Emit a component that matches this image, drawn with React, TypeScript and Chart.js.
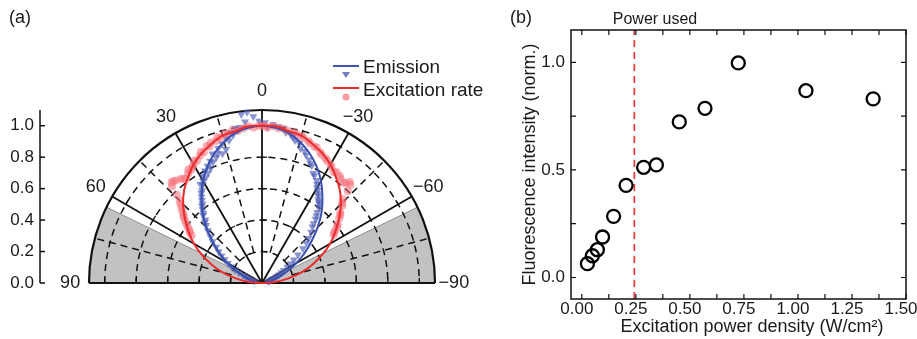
import React, { useEffect, useRef } from 'react';
import { Chart, registerables } from 'chart.js';

Chart.register(...registerables);

const FONT = '"Liberation Sans", Arial, Helvetica, sans-serif';
const TEXT = '#1a1a1a';
const DEG = Math.PI / 180;

// ---------- Panel (a): polar emission / excitation ----------
const fitAngles = [-90, -85, -80, -75, -70, -65, -60, -55, -50, -45, -40, -35, -30, -25, -20, -15, -10, -5, 0, 5, 10, 15, 20, 25, 30, 35, 40, 45, 50, 55, 60, 65, 70, 75, 80, 85, 90];
const emissionFit = [0, 0.01, 0.03, 0.07, 0.12, 0.18, 0.25, 0.33, 0.41, 0.5, 0.59, 0.67, 0.75, 0.82, 0.88, 0.93, 0.97, 0.99, 1.0, 0.99, 0.97, 0.93, 0.88, 0.82, 0.75, 0.67, 0.59, 0.5, 0.41, 0.33, 0.25, 0.18, 0.12, 0.07, 0.03, 0.01, 0];
const excitationFit = [0, 0.09, 0.17, 0.26, 0.34, 0.42, 0.5, 0.57, 0.64, 0.71, 0.77, 0.82, 0.87, 0.91, 0.94, 0.97, 0.98, 1.0, 1.0, 1.0, 0.98, 0.97, 0.94, 0.91, 0.87, 0.82, 0.77, 0.71, 0.64, 0.57, 0.5, 0.42, 0.34, 0.26, 0.17, 0.09, 0];

const emissionAngles = [1, 3, 5, 6, 7, 8, 9, 10, 11, 12, 13, 14, 15, 16, 17, 18, 19, 20, 21, 22, 23, 24, 25, 26, 27, 28, 29, 30, 31, 32, 33, 34, 35, 36, 37, 38, 39, 40, 41, 42, 43, 44, 46, 48, 50, 52, 54, 56, 58, 60, 62, 64, 66, 68, 70, 72, 74, 77,
  -1, -2, -4, -6, -8, -9, -11, -12, -13, -15, -16, -18, -19, -21, -22, -23, -25, -26, -28, -29, -30, -31, -32, -33, -34, -35, -36, -37, -38, -39, -40, -41, -42, -44, -46, -48, -50, -52, -54, -56, -58, -60, -62, -64, -66, -68, -70, -73, -76];
const emissionR = [1.03, 1.06, 1.09, 1.03, 1.08, 1.0, 0.98, 1.0, 0.96, 0.98, 0.93, 0.95, 0.88, 0.92, 0.86, 0.9, 0.87, 0.85, 0.88, 0.83, 0.84, 0.8, 0.82, 0.78, 0.8, 0.76, 0.78, 0.75, 0.73, 0.74, 0.7, 0.69, 0.67, 0.65, 0.63, 0.62, 0.6, 0.58, 0.57, 0.54, 0.53, 0.51, 0.48, 0.44, 0.41, 0.37, 0.34, 0.31, 0.28, 0.25, 0.22, 0.19, 0.16, 0.13, 0.11, 0.09, 0.07, 0.05,
  1.02, 0.99, 1.01, 1.0, 0.99, 0.97, 0.96, 0.95, 0.93, 0.92, 0.89, 0.88, 0.86, 0.84, 0.82, 0.81, 0.77, 0.76, 0.74, 0.72, 0.7, 0.69, 0.67, 0.66, 0.64, 0.63, 0.62, 0.6, 0.57, 0.55, 0.53, 0.5, 0.48, 0.45, 0.41, 0.38, 0.34, 0.29, 0.25, 0.22, 0.19, 0.16, 0.14, 0.12, 0.1, 0.08, 0.065, 0.05, 0.04];

const excitationAngles = [0, 1, 3, 5, 7, 9, 11, 13, 14, 16, 17, 18, 20, 21, 22, 24, 25, 26, 28, 29, 30, 31, 32, 33, 34, 36, 37, 38, 40, 41, 42, 43, 44, 45, 46, 47, 48, 49, 50, 51, 52, 53, 54, 55, 56,
  -1, -2, -4, -6, -8, -10, -12, -13, -15, -16, -18, -19, -21, -22, -24, -25, -27, -28, -30, -31, -33, -34, -36, -37, -39, -40, -41, -42, -43, -44, -45, -46, -48, -49, -50, -52, -53, -54, -55, -56];
const excitationR = [1.0, 1.0, 0.99, 1.0, 0.99, 0.98, 0.99, 0.97, 0.98, 0.96, 0.97, 0.95, 0.95, 0.93, 0.94, 0.91, 0.92, 0.9, 0.88, 0.89, 0.87, 0.86, 0.85, 0.86, 0.84, 0.82, 0.83, 0.84, 0.85, 0.86, 0.86, 0.84, 0.78, 0.74, 0.72, 0.7, 0.68, 0.66, 0.65, 0.63, 0.61, 0.59, 0.57, 0.56, 0.54,
  1.0, 0.99, 1.0, 0.99, 0.99, 0.98, 0.98, 0.97, 0.97, 0.96, 0.95, 0.94, 0.93, 0.93, 0.91, 0.9, 0.89, 0.88, 0.87, 0.86, 0.84, 0.85, 0.84, 0.83, 0.82, 0.83, 0.85, 0.84, 0.8, 0.74, 0.72, 0.71, 0.67, 0.66, 0.64, 0.61, 0.6, 0.58, 0.56, 0.55];

const polarMaxR = 1.1;
const polarRings = [0.2, 0.4, 0.6, 0.8, 1.0];
const polarSolidAngles = [-60, -30, 0, 30, 60];
const polarDashedAngles = [-75, -45, -15, 15, 45, 75];
const polarAngleLabels = [90, 60, 30, 0, -30, -60, -90];
const polarYTicks = [0, 0.2, 0.4, 0.6, 0.8, 1.0];
const shadedFromAngle = 64;

// ---------- Panel (b): power dependence ----------
const powerDensity = [0.026, 0.049, 0.072, 0.096, 0.147, 0.205, 0.286, 0.345, 0.451, 0.570, 0.724, 1.037, 1.348];
const fluorescence = [0.064, 0.101, 0.129, 0.188, 0.284, 0.428, 0.512, 0.523, 0.723, 0.786, 0.997, 0.868, 0.830];
const powerUsed = 0.243;
const xTicksB = [0, 0.25, 0.5, 0.75, 1.0, 1.25, 1.5];
const yTicksB = [0, 0.5, 1.0];
const xMinorB = [0, 0.125, 0.25, 0.375, 0.5, 0.625, 0.75, 0.875, 1.0, 1.125, 1.25, 1.375, 1.5];
const yMinorB = [0, 0.25, 0.5, 0.75, 1.0];
const xRangeB = [-0.05, 1.5];
const yRangeB = [-0.1, 1.15];

const toXY = (angles: number[], rs: number[]) =>
  angles.map((a, i) => ({ x: -rs[i] * Math.sin(a * DEG), y: rs[i] * Math.cos(a * DEG) }));

function PolarPanel() {
  const ref = useRef<HTMLCanvasElement>(null);
  useEffect(() => {
    const plugin = {
      id: 'polarDecor',
      beforeDatasetsDraw(chart: any) {
        const { ctx } = chart;
        const xs = chart.scales.x;
        const ys = chart.scales.y;
        const cx = xs.getPixelForValue(0);
        const cy = ys.getPixelForValue(0);
        const px = (r: number) => xs.getPixelForValue(r) - cx;
        const R = px(polarMaxR);
        const pos = (a: number, r: number) => [cx - px(r) * Math.sin(a * DEG), cy - px(r) * Math.cos(a * DEG)];
        ctx.save();
        // shaded wedges
        for (const s of [1, -1]) {
          const a1 = -Math.PI / 2 - s * shadedFromAngle * DEG;
          const a2 = -Math.PI / 2 - s * 90 * DEG;
          ctx.beginPath();
          ctx.moveTo(cx, cy);
          ctx.arc(cx, cy, R, Math.min(a1, a2), Math.max(a1, a2));
          ctx.closePath();
          ctx.fillStyle = '#c2c2c2';
          ctx.fill();
          const [ex, ey] = pos(s * shadedFromAngle, polarMaxR);
          ctx.beginPath();
          ctx.moveTo(cx, cy);
          ctx.lineTo(ex, ey);
          ctx.strokeStyle = '#8c8c8c';
          ctx.lineWidth = 1;
          ctx.stroke();
        }
        // dashed grid
        ctx.strokeStyle = '#111';
        ctx.lineWidth = 1.5;
        ctx.setLineDash([7, 5]);
        for (const r of polarRings) {
          ctx.beginPath();
          ctx.arc(cx, cy, px(r), Math.PI, 2 * Math.PI);
          ctx.stroke();
        }
        for (const a of polarDashedAngles) {
          const [x0, y0] = pos(a, 0.2);
          const [x1, y1] = pos(a, polarMaxR);
          ctx.beginPath();
          ctx.moveTo(x0, y0);
          ctx.lineTo(x1, y1);
          ctx.stroke();
        }
        ctx.setLineDash([]);
        // solid radials
        ctx.lineWidth = 1.8;
        for (const a of polarSolidAngles) {
          const [x1, y1] = pos(a, polarMaxR);
          ctx.beginPath();
          ctx.moveTo(cx, cy);
          ctx.lineTo(x1, y1);
          ctx.stroke();
        }
        // small ticks on solid radials and baseline
        ctx.lineWidth = 1.3;
        for (const a of [...polarSolidAngles, 90, -90]) {
          const dx = a >= 0 ? Math.cos(a * DEG) : -Math.cos(a * DEG);
          const dy = a >= 0 ? -Math.sin(a * DEG) : Math.sin(a * DEG);
          for (const r of polarRings) {
            const [tx, ty] = pos(a, r);
            ctx.beginPath();
            ctx.moveTo(tx, ty);
            ctx.lineTo(tx + dx * 5, ty + dy * 5);
            ctx.stroke();
          }
        }
        // outer arc and baseline
        ctx.lineWidth = 2.2;
        ctx.beginPath();
        ctx.arc(cx, cy, R, Math.PI, 2 * Math.PI);
        ctx.stroke();
        ctx.beginPath();
        ctx.moveTo(cx - R, cy);
        ctx.lineTo(cx + R, cy);
        ctx.stroke();
        ctx.restore();
      },
      afterDraw(chart: any) {
        const { ctx } = chart;
        const xs = chart.scales.x;
        const ys = chart.scales.y;
        const cx = xs.getPixelForValue(0);
        const cy = ys.getPixelForValue(0);
        const px = (r: number) => xs.getPixelForValue(r) - cx;
        ctx.save();
        ctx.fillStyle = TEXT;
        ctx.textAlign = 'center';
        ctx.textBaseline = 'middle';
        ctx.font = `18px ${FONT}`;
        for (const a of polarAngleLabels) {
          const rr = px(1.22);
          const lx = cx - rr * Math.sin(a * DEG);
          const ly = cy - rr * Math.cos(a * DEG);
          ctx.fillText(a < 0 ? `\u2212${-a}` : `${a}`, lx, ly);
        }
        // left radial axis
        const axX = 40;
        ctx.strokeStyle = '#111';
        ctx.lineWidth = 1.5;
        ctx.beginPath();
        ctx.moveTo(axX, ys.getPixelForValue(0));
        ctx.lineTo(axX, ys.getPixelForValue(polarMaxR));
        ctx.stroke();
        ctx.font = `17px ${FONT}`;
        ctx.textAlign = 'right';
        for (const v of polarYTicks) {
          const ty = ys.getPixelForValue(v);
          ctx.beginPath();
          ctx.moveTo(axX, ty);
          ctx.lineTo(axX + 5, ty);
          ctx.stroke();
          ctx.fillText(v.toFixed(1), axX - 6, ty);
        }
        // panel label
        ctx.textAlign = 'left';
        ctx.font = `18px ${FONT}`;
        ctx.fillText('(a)', 9, 18);
        // legend
        ctx.font = `19px ${FONT}`;
        ctx.lineWidth = 2;
        ctx.strokeStyle = '#3f55b2';
        ctx.beginPath();
        ctx.moveTo(333, 66);
        ctx.lineTo(359, 66);
        ctx.stroke();
        ctx.fillStyle = 'rgba(80,90,180,0.8)';
        ctx.beginPath();
        ctx.moveTo(342, 72);
        ctx.lineTo(350, 72);
        ctx.lineTo(346, 78);
        ctx.closePath();
        ctx.fill();
        ctx.strokeStyle = '#ec2b2b';
        ctx.beginPath();
        ctx.moveTo(333, 88);
        ctx.lineTo(359, 88);
        ctx.stroke();
        ctx.fillStyle = 'rgba(245,120,130,0.75)';
        ctx.beginPath();
        ctx.arc(346, 97, 3.5, 0, 2 * Math.PI);
        ctx.fill();
        ctx.fillStyle = TEXT;
        ctx.fillText('Emission', 363, 68);
        ctx.fillText('Excitation rate', 363, 91);
        ctx.restore();
      },
    };

    const chart = new Chart(ref.current as HTMLCanvasElement, {
      type: 'scatter',
      data: {
        datasets: [
          {
            label: 'Excitation fit',
            data: toXY(fitAngles, excitationFit),
            showLine: true,
            borderColor: '#ec2b2b',
            borderWidth: 2,
            pointRadius: 0,
            tension: 0.35,
            order: 0,
            clip: false,
          } as any,
          {
            label: 'Emission fit',
            data: toXY(fitAngles, emissionFit),
            showLine: true,
            borderColor: '#3a50b0',
            borderWidth: 2,
            pointRadius: 0,
            tension: 0.35,
            order: 1,
            clip: false,
          },
          {
            label: 'Excitation rate',
            data: toXY(excitationAngles, excitationR),
            pointStyle: 'circle',
            pointRadius: 4,
            borderWidth: 0,
            backgroundColor: 'rgba(245,110,120,0.55)',
            order: 2,
            clip: false,
          },
          {
            label: 'Emission',
            data: toXY(emissionAngles, emissionR),
            pointStyle: 'triangle',
            rotation: 180,
            pointRadius: 4.6,
            borderWidth: 0,
            backgroundColor: 'rgba(75,90,180,0.65)',
            order: 3,
            clip: false,
          },
        ],
      },
      options: {
        responsive: false,
        animation: false,
        events: [],
        layout: { padding: { left: 89, right: 65, top: 110, bottom: 56 } },
        plugins: { legend: { display: false }, tooltip: { enabled: false } },
        scales: {
          x: { type: 'linear', min: -polarMaxR, max: polarMaxR, display: false },
          y: { type: 'linear', min: 0, max: polarMaxR, display: false },
        },
      },
      plugins: [plugin],
    });
    return () => chart.destroy();
  }, []);
  return <canvas ref={ref} width={500} height={339} style={{ position: 'absolute', left: 0, top: 0 }} />;
}

function PowerPanel() {
  const ref = useRef<HTMLCanvasElement>(null);
  useEffect(() => {
    const plugin = {
      id: 'frameDecor',
      afterDraw(chart: any) {
        const { ctx, chartArea: ca } = chart;
        const xs = chart.scales.x;
        const ys = chart.scales.y;
        ctx.save();
        ctx.strokeStyle = '#111';
        ctx.lineWidth = 1.5;
        ctx.strokeRect(ca.left, ca.top, ca.right - ca.left, ca.bottom - ca.top);
        ctx.lineWidth = 1.2;
        for (const v of xMinorB) {
          const p = xs.getPixelForValue(v);
          ctx.beginPath();
          ctx.moveTo(p, ca.bottom);
          ctx.lineTo(p, ca.bottom - 5);
          ctx.moveTo(p, ca.top);
          ctx.lineTo(p, ca.top + 5);
          ctx.stroke();
        }
        for (const v of yMinorB) {
          const p = ys.getPixelForValue(v);
          ctx.beginPath();
          ctx.moveTo(ca.left, p);
          ctx.lineTo(ca.left + 5, p);
          ctx.moveTo(ca.right, p);
          ctx.lineTo(ca.right - 5, p);
          ctx.stroke();
        }
        ctx.fillStyle = TEXT;
        ctx.textBaseline = 'middle';
        ctx.textAlign = 'left';
        ctx.font = `18px ${FONT}`;
        ctx.fillText('(b)', 10, 18);
        ctx.font = `16px ${FONT}`;
        ctx.textAlign = 'center';
        ctx.fillText('Power used', 155, 20);
        ctx.font = `18px ${FONT}`;
        ctx.fillText('Excitation power density (W/cm\u00B2)', 252, 327);
        ctx.restore();
      },
    };
    const chart = new Chart(ref.current as HTMLCanvasElement, {
      type: 'scatter',
      data: {
        datasets: [
          {
            label: 'Fluorescence',
            data: powerDensity.map((x, i) => ({ x, y: fluorescence[i] })),
            pointStyle: 'circle',
            pointRadius: 6.5,
            borderWidth: 2.3,
            borderColor: '#000',
            backgroundColor: 'rgba(0,0,0,0)',
            order: 0,
          },
          {
            label: 'Power used',
            data: [{ x: powerUsed, y: yRangeB[0] }, { x: powerUsed, y: yRangeB[1] }],
            showLine: true,
            borderColor: '#f03a3a',
            borderDash: [7, 5],
            borderWidth: 1.7,
            pointRadius: 0,
            order: 1,
          },
        ],
      },
      options: {
        responsive: false,
        animation: false,
        events: [],
        layout: { padding: { left: 0, right: 11, top: 30, bottom: 0 } },
        plugins: { legend: { display: false }, tooltip: { enabled: false } },
        scales: {
          x: {
            type: 'linear',
            min: xRangeB[0],
            max: xRangeB[1],
            afterBuildTicks: (s: any) => { s.ticks = xTicksB.map((v) => ({ value: v })); },
            afterFit: (s: any) => { s.height = 40; s.paddingLeft = 0; s.paddingRight = 0; },
            grid: { display: false, drawTicks: false },
            border: { display: false },
            ticks: {
              padding: 0,
              labelOffset: -5,
              autoSkip: false,
              maxRotation: 0,
              color: TEXT,
              font: { family: FONT, size: 17 },
              callback: (v: any) => Number(v).toFixed(2),
            },
          },
          y: {
            type: 'linear',
            min: yRangeB[0],
            max: yRangeB[1],
            afterBuildTicks: (s: any) => { s.ticks = yTicksB.map((v) => ({ value: v })); },
            afterFit: (s: any) => { s.width = 71; s.paddingTop = 0; s.paddingBottom = 0; },
            grid: { display: false, drawTicks: false },
            border: { display: false },
            ticks: {
              padding: 6,
              autoSkip: false,
              color: TEXT,
              font: { family: FONT, size: 17 },
              callback: (v: any) => Number(v).toFixed(1),
            },
            title: {
              display: true,
              text: 'Fluorescence intensity (norm.)',
              color: TEXT,
              font: { family: FONT, size: 18 },
              padding: { top: 19, bottom: 0 },
            },
          },
        },
      },
      plugins: [plugin],
    });
    return () => chart.destroy();
  }, []);
  return <canvas ref={ref} width={417} height={339} style={{ position: 'absolute', left: 500, top: 0 }} />;
}

export default function App() {
  return (
    <div style={{ position: 'fixed', left: 0, top: 0, width: 917, height: 339, background: '#fff', overflow: 'hidden' }}>
      <PolarPanel />
      <PowerPanel />
    </div>
  );
}
